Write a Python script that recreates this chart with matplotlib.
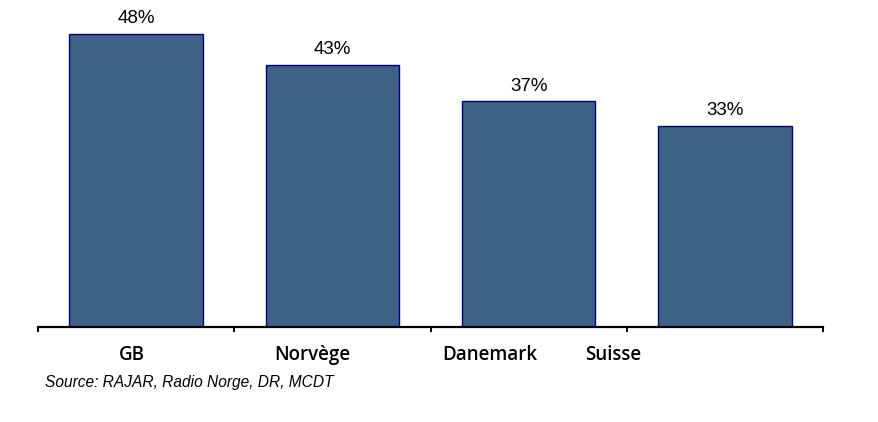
import matplotlib.pyplot as plt

pays = ["GB", "Norvège", "Danemark", "Suisse"]
valeurs = [48, 43, 37, 33]
source = "Source: RAJAR, Radio Norge, DR, MCDT"

# position des libellés (décalés comme dans l'original)
pos_libelles = [-0.02, 0.90, 1.80, 2.43]

fig = plt.figure(figsize=(8.79, 4.22), dpi=100)
ax = fig.add_axes([38 / 879, 95 / 422, 785 / 879, 305 / 422])

x = list(range(len(pays)))
ax.bar(x, valeurs, width=0.68, color="#3d6286", edgecolor="#000080", linewidth=1)

for i, v in enumerate(valeurs):
    ax.text(i, v + 1.1, f"{v}%", ha="center", va="bottom", fontsize=13.5,
            family="Liberation Sans")

ax.set_xlim(-0.5, 3.5)
ax.set_ylim(0, 50)
ax.set_yticks([])
for s in ["top", "right", "left"]:
    ax.spines[s].set_visible(False)
ax.spines["bottom"].set_linewidth(1.6)
ax.set_xticks([-0.5, 0.5, 1.5, 2.5, 3.5])
ax.set_xticklabels([])
ax.tick_params(axis="x", direction="out", length=3.5, width=1.4)

for p, nom in zip(pos_libelles, pays):
    ax.text(p, -4.6, nom, ha="center", va="center", fontsize=13.5,
            family="Open Sans", fontweight="semibold",
            transform=ax.transData, clip_on=False)

fig.text(45 / 879, 1 - 382 / 422, source, fontsize=11.2, style="italic",
         family="Liberation Sans", va="center", ha="left")

plt.savefig("out.png", dpi=100)
